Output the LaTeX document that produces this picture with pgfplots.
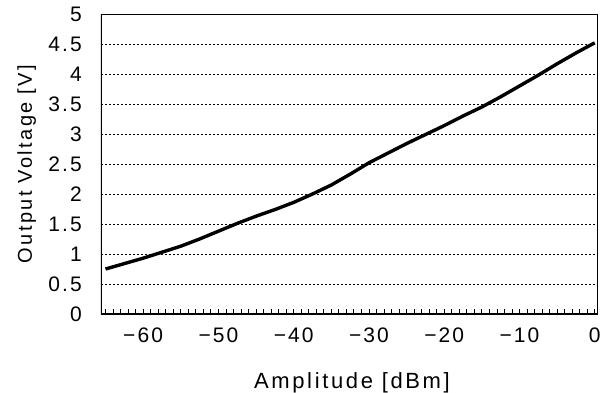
\documentclass[border=0pt]{standalone}
\usepackage{fontspec}
\setmainfont{Liberation Sans}[LetterSpace=10]
\newfontfamily\xlabfont{Liberation Sans}[LetterSpace=12]
\newfontfamily\ylabfont{Liberation Sans}[LetterSpace=12]
\usepackage{pgfplots}
\pgfplotsset{compat=1.18}
\begin{document}
\begin{tikzpicture}
\useasboundingbox (-101bp,-79bp) rectangle (500bp,314bp);
\begin{axis}[
  at={(0,0)}, anchor=south west,
  scale only axis,
  width=496bp, height=300bp,
  xmin=-65.6, xmax=0.3,
  ymin=0, ymax=5,
  xtick={-60,-50,-40,-30,-20,-10,0},
  xticklabels={−60,−50,−40,−30,−20,−10,0},
  minor xtick={-65,-64,...,-1},
  ytick={0,0.5,1,1.5,2,2.5,3,3.5,4,4.5,5},
  yticklabels={0,0.5,1,1.5,2,2.5,3,3.5,4,4.5,5},
  xtick pos=bottom,
  ytick pos=left,
  tick align=inside,
  major tick length=5bp,
  minor tick length=5bp,
  every tick/.style={black, line width=0.8bp},
  ytick style={draw=none},
  ymajorgrids,
  major grid style={black, line width=0.8bp, dash pattern=on 2bp off 2bp},
  axis line style={black, line width=0.8bp},
  tick label style={font=\fontsize{21bp}{24bp}\selectfont, inner sep=0pt},
  yticklabel style={anchor=east, xshift=-19bp},
  xticklabel style={anchor=north, yshift=-14bp},
  xlabel={Amplitude [dBm]},
  ylabel={Output Voltage [V]},
  every axis x label/.style={at={(axis description cs:0.506,-0.247)}, anchor=base, inner sep=0pt, font=\xlabfont\fontsize{22bp}{25bp}\selectfont},
  every axis y label/.style={at={(axis description cs:-0.150,0.5)}, anchor=center, rotate=90, font=\ylabfont\fontsize{20bp}{23bp}\selectfont},
]
\addplot[black, line width=3.4bp] coordinates {
  (-65,0.75) (-62.5,0.84) (-60,0.93) (-57.5,1.03) (-55,1.13) (-52.5,1.25)
  (-50,1.38) (-47.5,1.51) (-45,1.63) (-42.5,1.74) (-40,1.86)
  (-37.5,2.00) (-35,2.15) (-32.5,2.33) (-30,2.52) (-27.5,2.68)
  (-25,2.84) (-22.5,2.99) (-20,3.14) (-17.5,3.30) (-15,3.45)
  (-12.5,3.62) (-10,3.80) (-7.5,3.98) (-5,4.17) (-2.5,4.35) (0,4.52)
};
\draw[black, line width=2bp] (rel axis cs:0,1) -- (rel axis cs:0,0) -- (rel axis cs:1,0);
\end{axis}
\end{tikzpicture}
\end{document}
